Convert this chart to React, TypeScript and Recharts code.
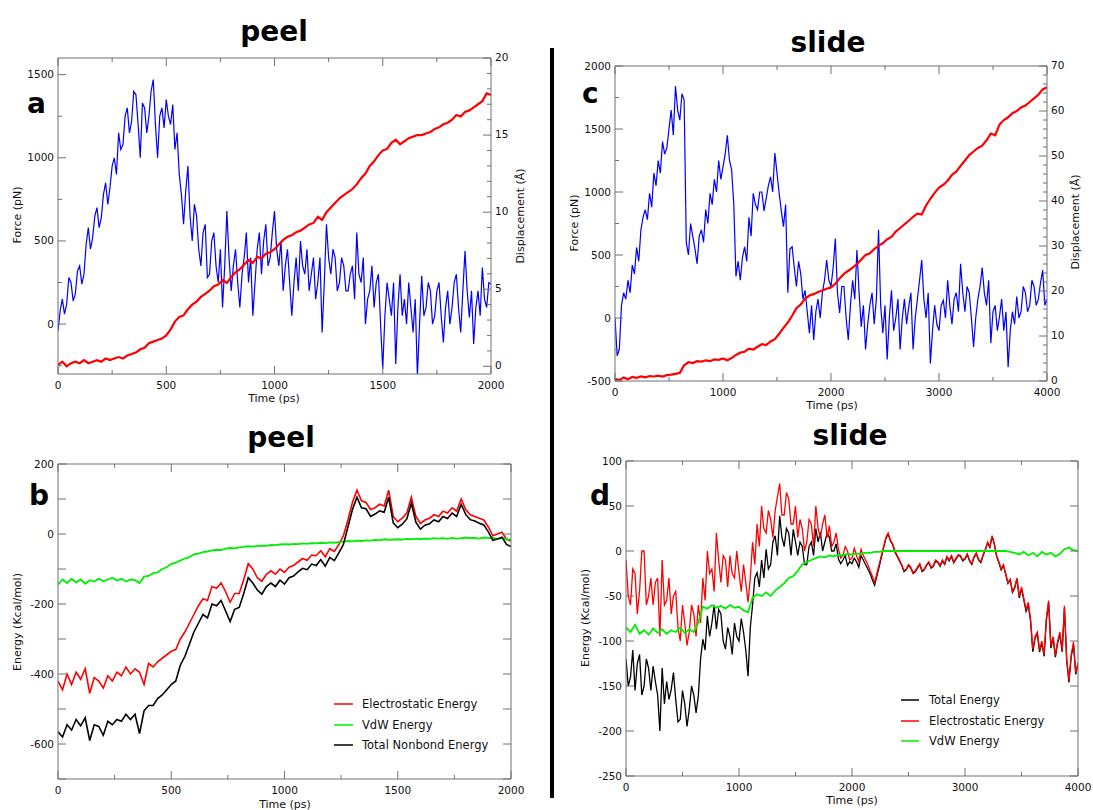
import React from 'react';
import { LineChart, Line, XAxis, YAxis } from 'recharts';

const W = 1093;
const H = 810;
const FONT = '"DejaVu Sans", Verdana, sans-serif';
const FRAME = '#707070';
const TXT = '#111111';

// ---------- time axes ----------
const peelFineTime = [
  0, 10, 20, 30, 40, 50, 60, 70, 80, 90, 100, 110, 120, 130, 140, 150, 160, 170, 180, 190,
  200, 210, 220, 230, 240, 250, 260, 270, 280, 290, 300, 310, 320, 330, 340, 350, 360, 370, 380, 390,
  400, 410, 420, 430, 440, 450, 460, 470, 480, 490, 500, 510, 520, 530, 540, 550, 560, 570, 580, 590,
  600, 610, 620, 630, 640, 650, 660, 670, 680, 690, 700, 710, 720, 730, 740, 750, 760, 770, 780, 790,
  800, 810, 820, 830, 840, 850, 860, 870, 880, 890, 900, 910, 920, 930, 940, 950, 960, 970, 980, 990,
  1000, 1010, 1020, 1030, 1040, 1050, 1060, 1070, 1080, 1090, 1100, 1110, 1120, 1130, 1140, 1150, 1160, 1170, 1180, 1190,
  1200, 1210, 1220, 1230, 1240, 1250, 1260, 1270, 1280, 1290, 1300, 1310, 1320, 1330, 1340, 1350, 1360, 1370, 1380, 1390,
  1400, 1410, 1420, 1430, 1440, 1450, 1460, 1470, 1480, 1490, 1500, 1510, 1520, 1530, 1540, 1550, 1560, 1570, 1580, 1590,
  1600, 1610, 1620, 1630, 1640, 1650, 1660, 1670, 1680, 1690, 1700, 1710, 1720, 1730, 1740, 1750, 1760, 1770, 1780, 1790,
  1800, 1810, 1820, 1830, 1840, 1850, 1860, 1870, 1880, 1890, 1900, 1910, 1920, 1930, 1940, 1950, 1960, 1970, 1980, 1990,
  2000,
];
const peelTime = [
  0, 20, 40, 60, 80, 100, 120, 140, 160, 180,
  200, 220, 240, 260, 280, 300, 320, 340, 360, 380,
  400, 420, 440, 460, 480, 500, 520, 540, 560, 580,
  600, 620, 640, 660, 680, 700, 720, 740, 760, 780,
  800, 820, 840, 860, 880, 900, 920, 940, 960, 980,
  1000, 1020, 1040, 1060, 1080, 1100, 1120, 1140, 1160, 1180,
  1200, 1220, 1240, 1260, 1280, 1300, 1320, 1340, 1360, 1380,
  1400, 1420, 1440, 1460, 1480, 1500, 1520, 1540, 1560, 1580,
  1600, 1620, 1640, 1660, 1680, 1700, 1720, 1740, 1760, 1780,
  1800, 1820, 1840, 1860, 1880, 1900, 1920, 1940, 1960, 1980,
  2000,
];
const slideFineTime = [
  0, 20, 40, 60, 80, 100, 120, 140, 160, 180, 200, 220, 240, 260, 280, 300, 320, 340, 360, 380,
  400, 420, 440, 460, 480, 500, 520, 540, 560, 580, 600, 620, 640, 660, 680, 700, 720, 740, 760, 780,
  800, 820, 840, 860, 880, 900, 920, 940, 960, 980, 1000, 1020, 1040, 1060, 1080, 1100, 1120, 1140, 1160, 1180,
  1200, 1220, 1240, 1260, 1280, 1300, 1320, 1340, 1360, 1380, 1400, 1420, 1440, 1460, 1480, 1500, 1520, 1540, 1560, 1580,
  1600, 1620, 1640, 1660, 1680, 1700, 1720, 1740, 1760, 1780, 1800, 1820, 1840, 1860, 1880, 1900, 1920, 1940, 1960, 1980,
  2000, 2020, 2040, 2060, 2080, 2100, 2120, 2140, 2160, 2180, 2200, 2220, 2240, 2260, 2280, 2300, 2320, 2340, 2360, 2380,
  2400, 2420, 2440, 2460, 2480, 2500, 2520, 2540, 2560, 2580, 2600, 2620, 2640, 2660, 2680, 2700, 2720, 2740, 2760, 2780,
  2800, 2820, 2840, 2860, 2880, 2900, 2920, 2940, 2960, 2980, 3000, 3020, 3040, 3060, 3080, 3100, 3120, 3140, 3160, 3180,
  3200, 3220, 3240, 3260, 3280, 3300, 3320, 3340, 3360, 3380, 3400, 3420, 3440, 3460, 3480, 3500, 3520, 3540, 3560, 3580,
  3600, 3620, 3640, 3660, 3680, 3700, 3720, 3740, 3760, 3780, 3800, 3820, 3840, 3860, 3880, 3900, 3920, 3940, 3960, 3980,
  4000,
];

// ---------- panel a (peel: force every 10 ps / displacement every 20 ps) ----------
const peelForce = [
  -40, 80, 150, 60, 120, 280, 250, 140, 180, 320, 350, 240, 300, 480, 580, 450, 520, 650, 700, 580,
  640, 780, 850, 720, 820, 950, 1000, 900, 1150, 1050, 1080, 1250, 1300, 1150, 1220, 1400, 1380, 1200, 1000, 1330,
  1300, 1150, 1250, 1400, 1470, 1200, 1000, 1250, 1300, 1180, 1350, 1250, 1200, 1320, 1050, 1150, 900, 780, 600, 800,
  950, 650, 500, 720, 650, 450, 350, 550, 600, 280, 300, 500, 550, 350, 250, 450, 100, 350, 680, 400,
  200, 350, 450, 250, 100, 300, 400, 550, 250, 400, 50, 250, 450, 550, 300, 500, 600, 350, 400, 550,
  680, 450, 350, 500, 200, 350, 450, 250, 50, 250, 400, 200, 500, 350, 300, 450, 200, 300, 400, 150,
  250, 400, -50, 250, 600, 400, 300, 450, 400, 200, 250, 400, 350, 200, 200, 300, 350, 150, 550, 300,
  250, 400, 0, 150, 200, 350, 100, 250, 300, 0, -270, 50, 250, 150, 50, 250, -240, 100, 300, 50,
  150, 0, 250, 100, -50, 150, -310, 0, 290, 50, 100, 250, 200, 0, 50, 200, 250, 50, -110, 100,
  200, 0, 100, 250, 300, 100, -50, 200, 440, 200, 40, 200, -120, 100, 200, 50, 340, 150, 100, 250,
  240,
];
const peelDisp = [
  0.1, 0.3, 0.0, 0.2, 0.3, 0.2, 0.4, 0.2, 0.3, 0.4,
  0.3, 0.5, 0.4, 0.5, 0.6, 0.5, 0.7, 0.8, 0.9, 1.1,
  1.2, 1.5, 1.6, 1.7, 1.8, 2.0, 2.4, 2.9, 3.2, 3.3,
  3.7, 4.0, 4.2, 4.5, 4.7, 4.9, 5.2, 5.3, 5.6, 5.4,
  5.8, 6.1, 6.3, 6.6, 6.9, 6.7, 7.1, 7.0, 7.3, 7.4,
  7.6, 7.9, 8.2, 8.4, 8.5, 8.7, 8.8, 9.0, 9.2, 9.3,
  9.7, 9.5, 10.0, 10.3, 10.6, 10.9, 11.1, 11.3, 11.5, 11.8,
  12.2, 12.5, 13.0, 13.3, 13.7, 14.0, 14.1, 14.5, 14.7, 14.4,
  14.6, 14.8, 14.9, 15.0, 15.0, 15.1, 15.2, 15.4, 15.5, 15.7,
  15.8, 16.0, 16.3, 16.2, 16.5, 16.6, 16.8, 17.0, 17.2, 17.7,
  17.6,
];

// ---------- panel c (slide: force every 20 ps / displacement every 40 ps) ----------
const slideForce = [
  0, -300, -250, 100, 200, 150, 300, 200, 420, 350, 560, 450, 700, 800, 860, 780, 990, 880, 1150, 1050,
  1250, 1150, 1400, 1300, 1350, 1500, 1650, 1450, 1840, 1650, 1570, 1780, 1730, 600, 500, 750, 650, 550, 430, 650,
  700, 600, 860, 750, 990, 900, 1100, 1000, 1250, 1100, 1200, 1300, 1450, 1250, 1175, 900, 330, 450, 300, 480,
  565, 450, 800, 650, 990, 900, 860, 1000, 1000, 850, 950, 1050, 1120, 1000, 1310, 1150, 990, 850, 725, 900,
  200, 550, 565, 400, 250, 450, 350, 150, 220, 50, -120, 100, -175, 50, 150, 0, 200, 300, 460, 300,
  250, 400, 630, 200, 40, 250, 250, 0, -175, 100, 300, 150, 540, 200, -70, 100, -250, -50, 100, 200,
  -50, 150, 700, 100, -120, 100, -330, 0, 220, -100, 0, 150, -250, 0, 150, -50, 90, 200, -250, 0,
  150, 300, 460, 150, 0, 200, -360, -100, 100, -50, -100, 100, 140, 0, 300, 100, -50, 150, 200, 50,
  430, 200, 50, 250, 200, 0, -230, 0, 150, 250, 400, 200, 100, 300, -200, 50, 100, -100, 10, 150,
  -100, 50, -390, -100, 50, -50, 170, 0, 50, 250, 200, 50, 100, 300, 250, 100, 150, 280, 380, 100,
  150,
];
const slideDisp = [
  0.5, 0.2, 0.8, 0.4, 0.9, 0.7, 1.0, 0.8, 1.1, 1.0,
  1.2, 1.0, 1.3, 1.4, 1.6, 1.8, 3.5, 4.2, 4.0, 4.4,
  4.3, 4.6, 4.4, 4.8, 4.7, 5.0, 4.6, 5.1, 5.8, 6.3,
  6.5, 7.2, 7.0, 7.6, 8.2, 8.0, 8.8, 9.3, 10.5, 11.8,
  13.0, 14.5, 16.2, 17.0, 18.3, 19.0, 19.3, 19.8, 20.1, 20.5,
  20.8, 21.6, 22.8, 23.8, 24.5, 25.2, 26.0, 27.0, 28.0, 28.4,
  29.3, 30.1, 30.6, 31.5, 32.0, 33.2, 34.0, 34.8, 35.6, 36.5,
  37.2, 37.0, 39.0, 40.5, 41.8, 43.0, 43.6, 44.5, 45.8, 46.5,
  47.8, 49.0, 50.2, 51.0, 51.8, 52.3, 53.5, 55.0, 54.6, 57.0,
  58.0, 58.6, 59.5, 60.0, 60.8, 61.2, 62.0, 62.8, 63.6, 64.8,
  65.3,
];

// ---------- panel b (peel energies, every 20 ps) ----------
const peelElec = [
  -420, -445, -400, -430, -395, -415, -385, -455, -410, -420,
  -440, -405, -420, -395, -405, -380, -400, -385, -395, -430,
  -370, -380, -365, -355, -345, -335, -330, -300, -280, -255,
  -230, -205, -185, -190, -150, -155, -140, -165, -195, -170,
  -170, -130, -85, -100, -125, -135, -115, -105, -115, -100,
  -110, -95, -90, -80, -70, -75, -60, -62, -48, -65,
  -42, -50, -30, -5, 40, 90, 125, 95, 90, 70,
  75, 85, 80, 125, 50, 35, 45, 60, 105, 50,
  30, 40, 45, 55, 50, 65, 60, 75, 65, 100,
  70, 55, 50, 45, 40, 20, -5, 0, 5, -15,
  -20,
];
const peelVdw = [
  -145, -130, -140, -128, -138, -130, -142, -132, -136, -128,
  -135, -130, -125, -133, -128, -136, -130, -132, -140, -122,
  -120, -112, -110, -100, -95, -85, -82, -76, -70, -66,
  -58, -56, -52, -50, -47, -45, -46, -42, -40, -41,
  -38, -37, -35, -36, -34, -33, -34, -31, -32, -30,
  -29, -30, -28, -29, -27, -28, -26, -27, -25, -26,
  -24, -25, -23, -22, -20, -21, -19, -20, -18, -19,
  -17, -18, -15, -17, -16, -15, -16, -14, -15, -13,
  -15, -13, -14, -12, -13, -12, -14, -11, -13, -12,
  -10, -12, -11, -13, -10, -12, -11, -14, -12, -15,
  -16,
];
const peelTotal = [
  -565, -580, -545, -560, -530, -548, -525, -590, -545, -550,
  -575, -535, -545, -530, -535, -515, -530, -515, -570, -505,
  -490, -490, -470, -460, -445, -430, -420, -375, -350, -315,
  -280, -255, -230, -240, -200, -205, -190, -220, -250, -215,
  -210, -170, -125, -140, -160, -172, -150, -140, -150, -132,
  -143, -125, -120, -108, -98, -102, -86, -90, -73, -92,
  -67, -76, -54, -30, 20, 70, 105, 75, 72, 50,
  57, 66, 62, 105, 32, 18, 28, 43, 88, 34,
  14, 25, 29, 40, 35, 50, 44, 60, 50, 85,
  56, 41, 37, 31, 26, 6, -18, -14, -9, -30,
  -36,
];

// ---------- panel d (slide energies: total / elec every 20 ps, vdw every 40 ps) ----------
const slideTotal = [
  -120, -150, -140, -110, -155, -125, -115, -160, -150, -120, -130, -155, -128, -145, -160, -200, -130, -170, -145, -165,
  -154, -135, -165, -190, -187, -155, -170, -195, -176, -150, -160, -180, -161, -120, -98, -110, -72, -95, -80, -60,
  -87, -65, -70, -100, -109, -85, -95, -115, -80, -95, -100, -75, -90, -110, -139, -85, -60, -30, -24, -40,
  -10, -30, 2, -20, -15, 10, 17, -5, 39, 15, 5, 25, 20, -5, 24, 10, -5, 10, 5, -15,
  -15, 5, 10, -5, 25, 10, 21, 0, 10, 20, 15, 0, 0, 8, -9, -14, -10, -5, -16, -12,
  -14, -8, -12, -18, -5, -10, -15, -20, -25, -32, -38, -28, -18, -7, 4, 14, 19, 11, 7, -1,
  -6, -11, -16, -23, -21, -16, -19, -25, -23, -19, -15, -23, -21, -16, -13, -19, -17, -11, -13, -17,
  -11, -15, -7, -11, -6, -13, -9, -5, -6, -11, -9, -4, -11, -15, -7, -3, -10, -13, -5, 1,
  9, 4, 16, 7, -6, -13, -21, -16, -26, -36, -32, -46, -41, -31, -52, -42, -54, -67, -60, -78,
  -112, -97, -92, -112, -102, -117, -77, -57, -108, -97, -118, -102, -93, -112, -63, -122, -146, -117, -104, -137,
  -126,
];
const slideElec = [
  -10, -50, -60, -20, -25, -70, -45, 0, 0, -60, -50, -30, -60, -35, -30, -95, -10, -60, -55, -30,
  -70, -50, -45, -85, -100, -60, -80, -105, -90, -60, -70, -95, -60, -80, -30, -55, 0, -25, -20, -45,
  20, -10, -35, -5, -10, -40, -5, -25, -30, 0, -24, -45, -15, -35, -57, -30, 10, -15, 30, 5,
  50, 25, 20, 45, 35, 15, 45, 60, 75, 40, 40, 65, 58, 30, 30, 50, 15, 35, 25, 0,
  10, 35, 30, 5, 50, 25, 15, 30, 40, 15, 28, 5, 10, 20, 2, -8, -5, 5, 0, -10,
  -8, 3, -5, -12, 2, -5, -10, -15, -22, -28, -35, -25, -15, -5, 5, 15, 20, 12, 8, 0,
  -5, -10, -15, -22, -20, -15, -18, -24, -22, -18, -14, -22, -20, -15, -12, -18, -16, -10, -12, -16,
  -10, -14, -6, -10, -5, -12, -8, -4, -5, -10, -8, -3, -10, -14, -6, -2, -9, -12, -4, 2,
  10, 5, 17, 8, -5, -12, -20, -15, -25, -35, -31, -45, -40, -30, -50, -40, -52, -65, -57, -75,
  -109, -95, -90, -110, -100, -115, -75, -55, -105, -95, -116, -100, -90, -110, -61, -120, -143, -115, -101, -135,
  -124,
];
const slideVdw = [
  -85, -90, -82, -92, -88, -93, -86, -91, -87, -92,
  -88, -90, -85, -91, -87, -90, -80, -62, -64, -60,
  -63, -61, -64, -60, -63, -62, -66, -68, -52, -48,
  -50, -46, -50, -44, -40, -36, -30, -28, -22, -15,
  -12, -10, -8, -6, -7, -5, -6, -4, -5, -3,
  -4, -3, -3, -2, -2, -1, -1, 0, 0, 0,
  0, 0, 0, 0, 0, 0, 0, 0, 0, 0,
  0, 0, 0, 0, 0, 0, 0, 0, 0, 0,
  0, 0, 0, 0, 0, -1, -2, -4, -1, -5,
  -2, -6, -1, -4, -2, -6, -3, 2, 4, 1,
  0,
];

// ---------- ticks ----------
const peelXTicks = [0, 250, 500, 750, 1000, 1250, 1500, 1750, 2000];
const peelXLabels = [0, 500, 1000, 1500, 2000];
const slideXTicks = [0, 500, 1000, 1500, 2000, 2500, 3000, 3500, 4000];
const slideXLabels = [0, 1000, 2000, 3000, 4000];
const aForceTicks = [-250, 0, 250, 500, 750, 1000, 1250, 1500];
const aForceLabels = [0, 500, 1000, 1500];
const aDispTicks = [0, 1, 2, 3, 4, 5, 6, 7, 8, 9, 10, 11, 12, 13, 14, 15, 16, 17, 18, 19, 20];
const aDispLabels = [0, 5, 10, 15, 20];
const cForceTicks = [-500, -250, 0, 250, 500, 750, 1000, 1250, 1500, 1750, 2000];
const cForceLabels = [-500, 0, 500, 1000, 1500, 2000];
const cDispTicks = [0, 2, 4, 6, 8, 10, 12, 14, 16, 18, 20, 22, 24, 26, 28, 30, 32, 34, 36, 38, 40, 42, 44, 46, 48, 50, 52, 54, 56, 58, 60, 62, 64, 66, 68, 70];
const cDispLabels = [0, 10, 20, 30, 40, 50, 60, 70];
const bTicks = [-700, -600, -500, -400, -300, -200, -100, 0, 100, 200];
const bLabels = [-600, -400, -200, 0, 200];
const dTicks = [-250, -200, -150, -100, -50, 0, 50, 100];
const dLabels = [-250, -200, -150, -100, -50, 0, 50, 100];

type Side = 'bottom' | 'top' | 'left' | 'right';

function tickRenderer(side: Side, labels: number[], majors: number[]) {
  return (props: any) => {
    const { x, y, payload } = props;
    const v = payload.value;
    const L = majors.indexOf(v) >= 0 ? 8 : 4;
    const show = labels.indexOf(v) >= 0;
    let line: any;
    if (side === 'bottom') line = <line x1={x} y1={y} x2={x} y2={y - L} stroke={FRAME} strokeWidth={1} />;
    else if (side === 'top') line = <line x1={x} y1={y} x2={x} y2={y + L} stroke={FRAME} strokeWidth={1} />;
    else if (side === 'left') line = <line x1={x} y1={y} x2={x + L} y2={y} stroke={FRAME} strokeWidth={1} />;
    else line = <line x1={x} y1={y} x2={x - L} y2={y} stroke={FRAME} strokeWidth={1} />;
    let text: any = null;
    const common = { fontFamily: FONT, fontSize: 10.5, fill: TXT };
    if (show) {
      if (side === 'bottom') text = <text x={x} y={y + 15} textAnchor="middle" {...common}>{v}</text>;
      else if (side === 'left') text = <text x={x - 4} y={y + 3.5} textAnchor="end" {...common}>{v}</text>;
      else if (side === 'right') text = <text x={x + 4} y={y + 3} textAnchor="start" {...common}>{v}</text>;
    }
    return (
      <g>
        {line}
        {text}
      </g>
    );
  };
}

type LineSpec = { key: string; color: string; width: number; alt?: boolean };
type PanelProps = {
  data: any[];
  rect: { x0: number; y0: number; x1: number; y1: number };
  xDomain: [number, number];
  xTicks: number[];
  xLabels: number[];
  yDomain: [number, number];
  yTicks: number[];
  yLabels: number[];
  yMajors: number[];
  rDomain: [number, number];
  rTicks: number[];
  rLabels: number[];
  rMajors: number[];
  lines: LineSpec[];
};

const AX = 10;

function Panel(p: PanelProps) {
  const margin = {
    top: p.rect.y0 - AX,
    left: p.rect.x0 - AX,
    right: W - p.rect.x1 - AX,
    bottom: H - p.rect.y1 - AX,
  };
  return (
    <div style={{ position: 'absolute', left: 0, top: 0, width: W, height: H }}>
      <LineChart width={W} height={H} data={p.data} margin={margin}>
        <XAxis
          xAxisId="b"
          dataKey="t"
          type="number"
          orientation="bottom"
          domain={p.xDomain}
          allowDataOverflow
          ticks={p.xTicks}
          interval={0}
          height={AX}
          tickSize={0}
          tickMargin={0}
          tickLine={false}
          axisLine={{ stroke: FRAME }}
          tick={tickRenderer('bottom', p.xLabels, p.xLabels)}
        />
        <XAxis
          xAxisId="t"
          dataKey="t"
          type="number"
          orientation="top"
          domain={p.xDomain}
          allowDataOverflow
          ticks={p.xTicks}
          interval={0}
          height={AX}
          tickSize={0}
          tickMargin={0}
          tickLine={false}
          axisLine={{ stroke: FRAME }}
          tick={tickRenderer('top', [], p.xLabels)}
        />
        <YAxis
          yAxisId="l"
          type="number"
          orientation="left"
          domain={p.yDomain}
          allowDataOverflow
          ticks={p.yTicks}
          interval={0}
          width={AX}
          tickSize={0}
          tickMargin={0}
          tickLine={false}
          axisLine={{ stroke: FRAME }}
          tick={tickRenderer('left', p.yLabels, p.yMajors)}
        />
        <YAxis
          yAxisId="r"
          type="number"
          orientation="right"
          domain={p.rDomain}
          allowDataOverflow
          ticks={p.rTicks}
          interval={0}
          width={AX}
          tickSize={0}
          tickMargin={0}
          tickLine={false}
          axisLine={{ stroke: FRAME }}
          tick={tickRenderer('right', p.rLabels, p.rMajors)}
        />
        {p.lines.map((l) => (
          <Line
            key={l.key}
            type="linear"
            dataKey={l.key}
            xAxisId={l.alt ? 't' : 'b'}
            yAxisId={l.alt ? 'r' : 'l'}
            stroke={l.color}
            strokeWidth={l.width}
            dot={false}
            activeDot={false}
            connectNulls
            isAnimationActive={false}
          />
        ))}
      </LineChart>
    </div>
  );
}

// fine rows; the coarser series sit on every second row
const half = (arr: number[], k: number) => (k % 2 === 0 ? arr[k / 2] : null);

const dataA = peelFineTime.map((t, k) => ({ t, force: peelForce[k], disp: half(peelDisp, k) }));
const dataC = slideFineTime.map((t, k) => ({ t, force: slideForce[k], disp: half(slideDisp, k) }));
const dataB = peelTime.map((t, i) => ({ t, elec: peelElec[i], vdw: peelVdw[i], total: peelTotal[i] }));
const dataD = slideFineTime.map((t, k) => ({ t, total: slideTotal[k], elec: slideElec[k], vdw: half(slideVdw, k) }));

const RED = '#ff0000';
const BLUE = '#0000ff';
const GREEN = '#00ee00';
const BLACK = '#000000';

function Overlay() {
  const title = { fontFamily: FONT, fontSize: 28, fontWeight: 'bold' as const, fill: '#000' };
  const letter = { fontFamily: FONT, fontSize: 28, fontWeight: 'bold' as const, fill: '#000' };
  const axis = { fontFamily: FONT, fontSize: 11, fill: TXT };
  const leg = { fontFamily: FONT, fontSize: 11.5, fill: TXT };
  return (
    <svg
      width={W}
      height={H}
      style={{ position: 'absolute', left: 0, top: 0, pointerEvents: 'none' }}
    >
      <rect x={550} y={48} width={4} height={750} fill="#000" />
      <text x={274} y={41} textAnchor="middle" {...title}>peel</text>
      <text x={828} y={52} textAnchor="middle" {...title}>slide</text>
      <text x={281} y={447} textAnchor="middle" {...title}>peel</text>
      <text x={850} y={445} textAnchor="middle" {...title}>slide</text>

      <text x={27} y={113} {...letter}>a</text>
      <text x={582} y={103} {...letter}>c</text>
      <text x={29} y={505} {...letter}>b</text>
      <text x={590} y={505} {...letter}>d</text>

      <text x={274} y={402} textAnchor="middle" {...axis}>Time (ps)</text>
      <text x={832} y={409} textAnchor="middle" {...axis}>Time (ps)</text>
      <text x={285} y={808} textAnchor="middle" {...axis}>Time (ps)</text>
      <text x={852} y={804} textAnchor="middle" {...axis}>Time (ps)</text>

      <text transform="translate(21,215) rotate(-90)" textAnchor="middle" {...axis}>Force (pN)</text>
      <text transform="translate(524,216) rotate(-90)" textAnchor="middle" {...axis}>Displacement (Å)</text>
      <text transform="translate(578,223) rotate(-90)" textAnchor="middle" {...axis}>Force (pN)</text>
      <text transform="translate(1079,222) rotate(-90)" textAnchor="middle" {...axis}>Displacement (Å)</text>
      <text transform="translate(21,622) rotate(-90)" textAnchor="middle" {...axis}>Energy (Kcal/mol)</text>
      <text transform="translate(589,618) rotate(-90)" textAnchor="middle" {...axis}>Energy (Kcal/mol)</text>

      <line x1={334} y1={704} x2={353} y2={704} stroke={RED} strokeWidth={1.5} />
      <text x={362} y={708} {...leg}>Electrostatic Energy</text>
      <line x1={334} y1={725} x2={353} y2={725} stroke={GREEN} strokeWidth={1.5} />
      <text x={362} y={729} {...leg}>VdW Energy</text>
      <line x1={334} y1={745} x2={353} y2={745} stroke={BLACK} strokeWidth={1.5} />
      <text x={362} y={749} {...leg}>Total Nonbond Energy</text>

      <line x1={901} y1={700} x2={919} y2={700} stroke={BLACK} strokeWidth={1.5} />
      <text x={929} y={704} {...leg}>Total Energy</text>
      <line x1={901} y1={721} x2={919} y2={721} stroke={RED} strokeWidth={1.5} />
      <text x={929} y={725} {...leg}>Electrostatic Energy</text>
      <line x1={901} y1={741} x2={919} y2={741} stroke={GREEN} strokeWidth={1.5} />
      <text x={929} y={745} {...leg}>VdW Energy</text>
    </svg>
  );
}

export default function App() {
  return (
    <div style={{ position: 'absolute', left: 0, top: 0, width: W, height: H, background: '#fff' }}>
      <Panel
        data={dataA}
        rect={{ x0: 58, y0: 58, x1: 491, y1: 374 }}
        xDomain={[0, 2000]}
        xTicks={peelXTicks}
        xLabels={peelXLabels}
        yDomain={[-300, 1600]}
        yTicks={aForceTicks}
        yLabels={aForceLabels}
        yMajors={aForceLabels}
        rDomain={[-0.5, 20]}
        rTicks={aDispTicks}
        rLabels={aDispLabels}
        rMajors={aDispLabels}
        lines={[
          { key: 'force', color: BLUE, width: 1.2 },
          { key: 'disp', color: RED, width: 2.2, alt: true },
        ]}
      />
      <Panel
        data={dataC}
        rect={{ x0: 615, y0: 66, x1: 1047, y1: 381 }}
        xDomain={[0, 4000]}
        xTicks={slideXTicks}
        xLabels={slideXLabels}
        yDomain={[-500, 2000]}
        yTicks={cForceTicks}
        yLabels={cForceLabels}
        yMajors={cForceLabels}
        rDomain={[0, 70]}
        rTicks={cDispTicks}
        rLabels={cDispLabels}
        rMajors={cDispLabels}
        lines={[
          { key: 'force', color: BLUE, width: 1.2 },
          { key: 'disp', color: RED, width: 2.2, alt: true },
        ]}
      />
      <Panel
        data={dataB}
        rect={{ x0: 58, y0: 464, x1: 511, y1: 779 }}
        xDomain={[0, 2000]}
        xTicks={peelXTicks}
        xLabels={peelXLabels}
        yDomain={[-700, 200]}
        yTicks={bTicks}
        yLabels={bLabels}
        yMajors={bTicks}
        rDomain={[-700, 200]}
        rTicks={bTicks}
        rLabels={[]}
        rMajors={bTicks}
        lines={[
          { key: 'elec', color: RED, width: 1.6 },
          { key: 'vdw', color: GREEN, width: 1.8, alt: true },
          { key: 'total', color: BLACK, width: 1.6 },
        ]}
      />
      <Panel
        data={dataD}
        rect={{ x0: 626, y0: 461, x1: 1078, y1: 776 }}
        xDomain={[0, 4000]}
        xTicks={slideXTicks}
        xLabels={slideXLabels}
        yDomain={[-250, 100]}
        yTicks={dTicks}
        yLabels={dLabels}
        yMajors={dTicks}
        rDomain={[-250, 100]}
        rTicks={dTicks}
        rLabels={[]}
        rMajors={dTicks}
        lines={[
          { key: 'total', color: BLACK, width: 1.3 },
          { key: 'elec', color: RED, width: 1.3 },
          { key: 'vdw', color: GREEN, width: 1.8, alt: true },
        ]}
      />
      <Overlay />
    </div>
  );
}
